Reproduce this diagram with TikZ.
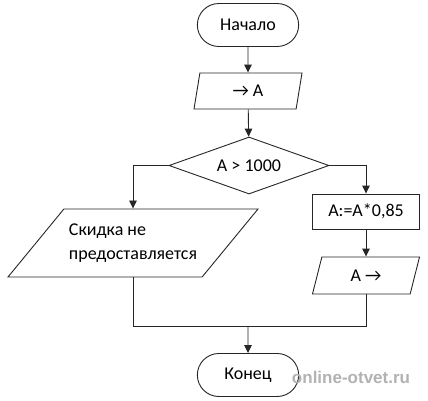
\documentclass[tikz,border=0pt]{standalone}
\usepackage{fontspec}
\setmainfont{Carlito}
\newfontfamily\markfont{Liberation Sans}
\usetikzlibrary{shapes.geometric,shapes.misc,arrows.meta}
\tikzstyle{every node}=[font=\fontsize{18}{24.5}\selectfont]
\tikzstyle{line}=[line width=0.9pt,draw=black!85]
\tikzstyle{arrow}=[line,-{Triangle[length=8pt,width=7.5pt]}]
\tikzstyle{terminal}=[line,rounded rectangle,minimum width=108pt,minimum height=43pt]
\tikzstyle{io}=[line,trapezium,trapezium stretches body,inner sep=0pt]
\tikzstyle{process}=[line,rectangle,minimum width=107pt,minimum height=35pt]
\tikzstyle{decision}=[line,diamond,aspect=2.8,inner sep=0pt,minimum width=160pt,minimum height=57pt]

\begin{document}
\begin{tikzpicture}[x=1pt,y=-1pt]
  \useasboundingbox (0,0) rectangle (428,400);

  % Main column.
  \node[terminal] (nachalo) at (248,25) {Начало};
  \node[io,trapezium left angle=63,trapezium right angle=117,
    minimum width=108pt,minimum height=36pt] (vvod) at (248,91) {→ A};
  \node[decision] (uslovie) at (249,165.5) {A > 1000};

  % Left branch.
  \node[io,trapezium left angle=35,trapezium right angle=145,
    minimum width=250pt,minimum height=68pt,align=left] (skidka) at (133,243)
    {Скидка не\\предоставляется};

  % Right branch.
  \node[process] (raschet) at (366,211.5) {A:=A*0,85};
  \node[io,trapezium left angle=51,trapezium right angle=129,
    minimum width=107pt,minimum height=37pt] (vyvod) at (366,275.5) {A →};

  % End.
  \coordinate (sliyanie) at (248,326);
  \node[terminal] (konec) at (248,375) {Конец};

  % Connectors.
  \draw[arrow] (nachalo) -- (vvod);
  \draw[arrow] (vvod) -- (uslovie);
  \draw[arrow] (uslovie.west) -| (skidka.north);
  \draw[arrow] (uslovie.east) -| (raschet.north);
  \draw[arrow] (raschet) -- (vyvod);
  \draw[line] (skidka.south) |- (sliyanie);
  \draw[line] (vyvod.south) |- (sliyanie);
  \draw[arrow] (sliyanie) -- (konec);

  % Watermark.
  \node[font=\markfont\bfseries\fontsize{17}{20}\selectfont,text=black!30]
    (znak) at (351,377) {online-otvet.ru};
\end{tikzpicture}
\end{document}
